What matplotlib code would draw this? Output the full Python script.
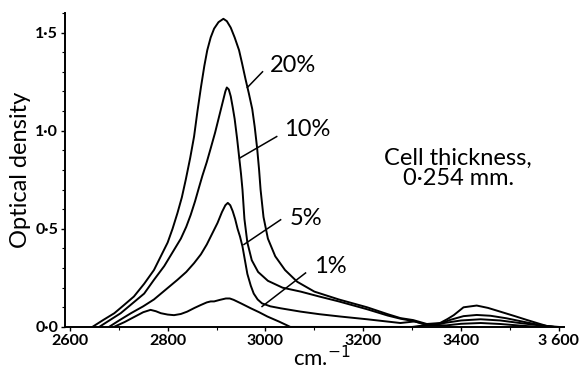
"""
Optical density vs wavenumber for several concentrations (cell thickness 0.254 mm).
"""

import matplotlib
matplotlib.use("Agg")
import matplotlib.pyplot as plt
from matplotlib.ticker import FixedLocator, MultipleLocator

plt.rcParams['font.family'] = ['Lato', 'DejaVu Sans']

# wavenumber (cm-1) and optical density
wn_20 = [2646, 2668, 2691, 2710, 2731, 2752, 2772, 2786, 2800, 2810, 2820, 2829,
         2837, 2846, 2854, 2861, 2868, 2875, 2881, 2888, 2895, 2904, 2914, 2921,
         2929, 2937, 2946, 2952, 2959, 2966, 2973, 2978, 2983, 2987, 2990, 2996,
         3005, 3020, 3040, 3065, 3100, 3150, 3208, 3250, 3276, 3302, 3330, 3357,
         3372, 3385, 3405, 3432, 3455, 3480, 3510, 3534, 3555, 3575, 3600]
od_20 = [0.0, 0.035, 0.07, 0.11, 0.155, 0.22, 0.29, 0.36, 0.43, 0.50, 0.58, 0.66,
         0.75, 0.86, 0.97, 1.10, 1.22, 1.33, 1.41, 1.475, 1.52, 1.553, 1.57, 1.558,
         1.525, 1.475, 1.41, 1.345, 1.265, 1.19, 1.11, 1.02, 0.91, 0.80, 0.70, 0.56,
         0.45, 0.36, 0.29, 0.23, 0.18, 0.14, 0.10, 0.065, 0.045, 0.035, 0.015, 0.02,
         0.04, 0.06, 0.10, 0.109, 0.097, 0.078, 0.055, 0.036, 0.02, 0.005, 0.0]

wn_10 = [2660, 2682, 2704, 2728, 2752, 2772, 2793, 2810, 2827, 2838, 2847, 2856,
         2864, 2871, 2880, 2888, 2897, 2905, 2911, 2915, 2918, 2921, 2925, 2929,
         2933, 2937, 2942, 2946, 2950, 2953, 2957, 2963, 2972, 2985, 3005, 3035,
         3072, 3110, 3150, 3208, 3250, 3276, 3302, 3330, 3355, 3378, 3405, 3432,
         3460, 3493, 3530, 3561, 3590]
od_10 = [0.0, 0.035, 0.07, 0.12, 0.17, 0.24, 0.31, 0.38, 0.45, 0.51, 0.57, 0.64,
         0.71, 0.77, 0.84, 0.91, 0.99, 1.07, 1.13, 1.17, 1.20, 1.22, 1.21, 1.175,
         1.12, 1.06, 0.96, 0.87, 0.78, 0.70, 0.55, 0.43, 0.34, 0.28, 0.235, 0.20,
         0.18, 0.155, 0.13, 0.09, 0.058, 0.042, 0.03, 0.012, 0.015, 0.036, 0.055, 0.061,
         0.057, 0.044, 0.025, 0.01, 0.0]

wn_5 = [2680, 2702, 2725, 2750, 2772, 2796, 2820, 2838, 2854, 2868, 2880, 2891,
        2902, 2911, 2918, 2923, 2928, 2933, 2938, 2943, 2948, 2953, 2958, 2963,
        2970, 2976, 2984, 2993, 3010, 3031, 3072, 3110, 3153, 3208, 3276, 3305,
        3330, 3360, 3400, 3440, 3480, 3520, 3560, 3590]
od_5 = [0.0, 0.035, 0.07, 0.105, 0.14, 0.19, 0.24, 0.28, 0.325, 0.37, 0.42, 0.475,
        0.53, 0.585, 0.62, 0.632, 0.62, 0.59, 0.55, 0.50, 0.46, 0.41, 0.34, 0.27,
        0.21, 0.17, 0.14, 0.12, 0.105, 0.095, 0.078, 0.065, 0.053, 0.039, 0.02, 0.028,
        0.01, 0.018, 0.033, 0.039, 0.033, 0.02, 0.008, 0.0]

wn_1 = [2690, 2712, 2731, 2750, 2765, 2776, 2786, 2800, 2813, 2827, 2840, 2855,
        2868, 2880, 2888, 2895, 2907, 2919, 2927, 2935, 2950, 2970, 2987, 3004,
        3028, 3051, 3300, 3330, 3370, 3400, 3440, 3480, 3520, 3560]
od_1 = [0.0, 0.025, 0.05, 0.075, 0.087, 0.08, 0.07, 0.063, 0.06, 0.066, 0.078, 0.097,
        0.112, 0.125, 0.13, 0.13, 0.138, 0.145, 0.145, 0.138, 0.12, 0.095, 0.075, 0.053,
        0.027, 0.0, 0.0, 0.01, 0.008, 0.016, 0.02, 0.015, 0.007, 0.0]

x_ticks = [2600, 2800, 3000, 3200, 3400, 3600]
x_tick_labels = ['2600', '2800', '3000', '3200', '3400', '3 600']
y_ticks = [0.0, 0.5, 1.0, 1.5]
y_tick_labels = ['0·0', '0·5', '1·0', '1·5']

# concentration labels: text centre, leader line start (on curve) and end (near text)
labels = ['20%', '10%', '5%', '1%']
label_xy = [(3057, 1.33), (3086, 1.005), (3082, 0.55), (3133, 0.31)]
leader_from = [(2963, 1.22), (2947, 0.86), (2956, 0.42), (2993, 0.104)]
leader_to = [(2994, 1.30), (3023, 0.97), (3031, 0.546), (3082, 0.275)]


def main() -> None:
    fig = plt.figure(figsize=(5.8, 3.69), dpi=100)
    ax = fig.add_axes([0.112, 0.114, 0.860, 0.851])

    for wn, od in [(wn_20, od_20), (wn_10, od_10), (wn_5, od_5), (wn_1, od_1)]:
        ax.plot(wn, od, color='black', lw=1.4, solid_joinstyle='round')

    for lab, xy, p0, p1 in zip(labels, label_xy, leader_from, leader_to):
        ax.plot([p0[0], p1[0]], [p0[1], p1[1]], color='black', lw=1.1)
        ax.text(xy[0], xy[1], lab, fontsize=17, ha='center', va='center')

    ax.text(3394, 0.81, 'Cell thickness,\n0·254 mm.', fontsize=17,
            ha='center', va='center', linespacing=0.95)

    ax.set_xlim(2590, 3610)
    ax.set_ylim(0, 1.6)
    ax.spines['top'].set_visible(False)
    ax.spines['right'].set_visible(False)
    for s in ['left', 'bottom']:
        ax.spines[s].set_linewidth(1.4)

    ax.xaxis.set_major_locator(FixedLocator(x_ticks))
    ax.set_xticklabels(x_tick_labels, fontsize=11.5, fontweight='bold')
    ax.yaxis.set_major_locator(FixedLocator(y_ticks))
    ax.set_yticklabels(y_tick_labels, fontsize=11.5, fontweight='bold')
    ax.yaxis.set_minor_locator(MultipleLocator(0.1))
    ax.xaxis.set_minor_locator(MultipleLocator(100))
    ax.tick_params(which='major', length=3, width=1, pad=2)
    ax.tick_params(which='minor', length=2, width=0.8)

    ax.set_ylabel('Optical density', fontsize=17, labelpad=3)
    fig.text(0.555, 0.008, 'cm.$^{-1}$', fontsize=16, ha='center', va='baseline')

    fig.savefig('out.png', dpi=100)


if __name__ == "__main__":
    main()
